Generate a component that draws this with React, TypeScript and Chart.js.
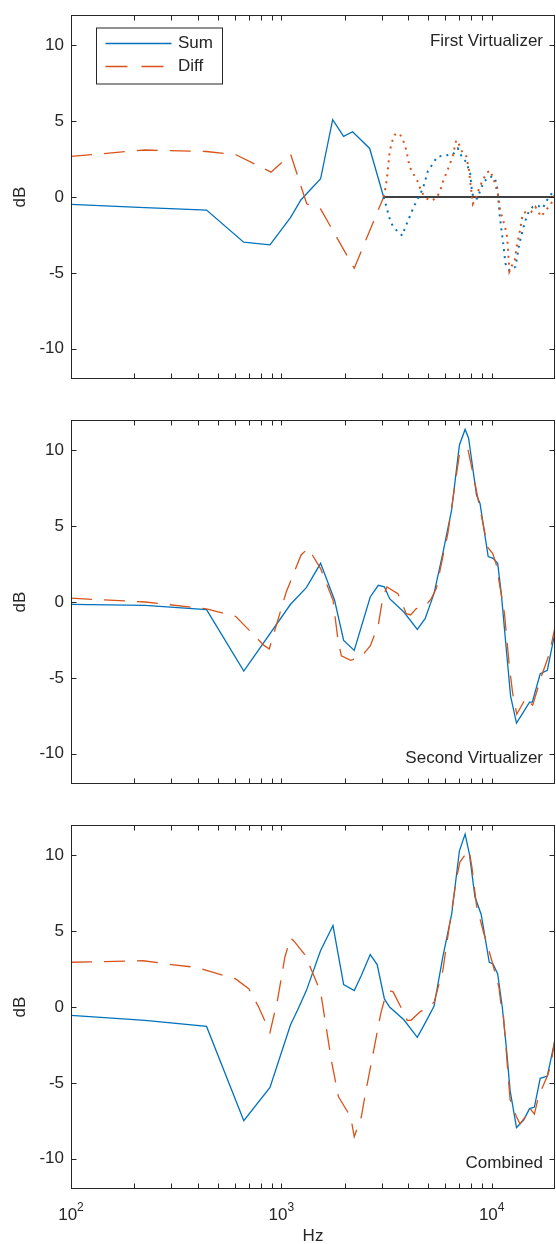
import React, { useEffect, useRef } from 'react';
import { Chart, registerables } from 'chart.js';

Chart.register(...registerables);

const BLUE = '#0072BD';
const ORANGE = '#D95319';
const AXIS = '#262626';
const FONT = '"Liberation Sans", Arial, Helvetica, sans-serif';

const Y_TICKS = [-10, -5, 0, 5, 10];
const X_MAJOR = [100, 1000, 10000];
const X_MAJOR_EXP = ['2', '3', '4'];
const X_MINOR = [200, 300, 400, 500, 600, 700, 800, 900, 2000, 3000, 4000, 5000, 6000, 7000, 8000, 9000];
const PANEL_LABELS = ['First Virtualizer', 'Second Virtualizer', 'Combined'];
const LEGEND_LABELS = ['Sum', 'Diff'];

// ---------- Panel 1: First Virtualizer ----------
const p1SumHz = [100, 225, 441, 662, 883, 1105, 1241, 1537, 1754, 1977, 2182, 2630, 3064];
const p1SumDb = [-0.48, -0.7, -0.86, -2.98, -3.16, -1.36, -0.18, 1.2, 5.1, 4.0, 4.3, 3.2, 0];
const p1DiffHz = [100, 225, 440, 606, 893, 1108, 1320, 1538, 2221, 3064];
const p1DiffDb = [2.68, 3.1, 3.0, 2.8, 1.64, 2.8, -0.45, -0.8, -4.7, 0];
const p1SumHiHz = [3064, 3155, 3236, 3333, 3532, 3758, 3884, 4174, 4347, 4708, 4973, 5252, 5510, 6015, 6537, 6902, 7244, 7568, 7906, 8046, 8197, 8533, 8849, 9173, 9763, 10311, 10573, 10736, 10889, 11094, 11376, 11627, 12146, 12973, 13407, 13658, 14315, 14841, 15671, 16732, 17481, 18342, 19658, 20000];
const p1SumHiDb = [0, -0.6, -1.2, -1.75, -2.2, -2.55, -2.0, -0.95, -0.4, 0.55, 1.7, 2.2, 2.65, 2.75, 2.8, 3.2, 2.6, 2.3, 1.55, 0.45, -0.1, -0.1, 0.45, 1.0, 1.35, 1.3, 0.8, 0.1, -1.1, -2.0, -3.2, -4.4, -4.85, -4.6, -3.4, -2.85, -1.75, -1.1, -0.65, -0.6, -0.75, -0.2, 0.4, 0.45];
const p1DiffHiHz = [3064, 3131, 3176, 3271, 3343, 3455, 3648, 3812, 3926, 4070, 4253, 4458, 4628, 4887, 5161, 5487, 5712, 5857, 6081, 6304, 6537, 6785, 7034, 7292, 7568, 7787, 7993, 8133, 8440, 8751, 9143, 9478, 9838, 10121, 10423, 10690, 10973, 11290, 11627, 11846, 12146, 12510, 12832, 13159, 13658, 14054, 14700, 15400, 16145, 17180, 17811, 19170, 20000];
const p1DiffHiDb = [0, 0.65, 1.2, 2.95, 3.55, 4.1, 4.2, 3.65, 3.1, 2.0, 1.5, 1.0, 0.35, -0.1, -0.25, -0.05, 0.5, 1.0, 1.55, 2.1, 2.75, 3.75, 3.4, 2.85, 2.7, 1.85, 0.45, -0.45, 0.0, 0.65, 1.2, 1.6, 1.75, 1.3, 0.8, 0.2, -0.9, -1.45, -2.1, -2.65, -4.9, -4.5, -4.3, -3.25, -2.15, -1.1, -0.95, -1.0, -0.65, -1.3, -1.0, -0.45, 0.2];
const p1ZeroHz = [3064, 20000];
const p1ZeroDb = [0, 0];

// ---------- Panel 2: Second Virtualizer ----------
const p2SumHz = [100, 225, 441, 663, 1106, 1315, 1537, 1790, 1978, 2221, 2646, 2891, 3090, 3271, 3824, 4430, 4824, 5318, 5857, 6451, 7025, 7475, 7768, 8470, 8800, 9624, 10154, 10678, 11107, 11750, 12300, 13121, 14006, 15136, 15600, 17012, 18389, 20000];
const p2SumDb = [-0.15, -0.22, -0.5, -4.55, -0.15, 0.95, 2.55, 0.13, -2.53, -3.19, 0.33, 1.1, 1.0, 0.22, -0.66, -1.8, -1.1, 0.55, 3.2, 6.07, 10.35, 11.38, 10.8, 7.05, 6.5, 3.0, 2.88, 2.55, 0.57, -3.2, -6.2, -7.98, -7.36, -6.6, -6.6, -4.73, -4.5, -2.0];
const p2DiffHz = [100, 225, 440, 606, 827, 876, 1055, 1241, 1342, 1537, 1760, 1863, 1930, 2136, 2400, 2646, 2891, 3041, 3176, 3583, 3926, 4117, 4380, 4797, 5160, 5452, 5857, 6187, 7034, 7700, 8284, 8751, 9583, 10121, 10505, 11503, 12146, 12596, 13158, 14583, 15007, 15671, 17179, 18815, 20000];
const p2DiffDb = [0.25, 0.0, -0.45, -0.95, -2.86, -3.1, 0.66, 3.1, 3.54, 2.2, 0.13, -2.6, -3.55, -3.85, -3.6, -2.9, -1.5, 0.33, 0.99, 0.55, -0.77, -0.85, -0.44, -0.33, 0.22, 0.88, 2.97, 4.5, 9.8, 10.1, 8.0, 6.3, 3.6, 3.2, 2.5, -0.77, -4.3, -6.05, -7.4, -6.3, -6.6, -6.8, -4.95, -3.4, -1.65];

// ---------- Panel 3: Combined ----------
const p3SumHz = [100, 225, 441, 663, 883, 1106, 1195, 1315, 1537, 1760, 1978, 2221, 2400, 2646, 2855, 3090, 3271, 3824, 4430, 4824, 5318, 5857, 6451, 7025, 7475, 7834, 8330, 8915, 9739, 10154, 10678, 11230, 11769, 12231, 13121, 14190, 15136, 15960, 17012, 18389, 20000];
const p3SumDb = [-0.55, -0.88, -1.28, -7.5, -5.3, -1.17, -0.2, 1.08, 3.72, 5.37, 1.48, 1.08, 2.07, 3.46, 2.8, 0.53, 0.0, -0.84, -2.0, -1.06, 0.05, 3.3, 6.1, 10.3, 11.4, 10.1, 7.25, 6.1, 2.95, 2.84, 2.18, 0.0, -2.83, -5.5, -7.95, -7.46, -6.7, -6.6, -4.7, -4.55, -2.16];
const p3DiffHz = [100, 220, 300, 400, 470, 606, 700, 780, 883, 960, 1040, 1106, 1149, 1292, 1394, 1538, 1567, 1728, 1867, 2136, 2221, 2400, 2495, 2972, 3090, 3271, 3400, 3824, 3966, 4133, 4540, 5125, 5318, 5857, 6210, 6820, 7063, 7440, 7797, 8054, 8470, 9143, 9912, 10828, 11107, 11316, 12231, 13121, 13626, 14436, 15136, 15430, 15960, 16700, 18389, 19060, 20000];
const p3DiffDb = [2.95, 3.05, 2.8, 2.6, 2.3, 1.85, 1.2, 0.0, -1.68, 0.5, 3.3, 4.56, 4.34, 3.46, 2.4, 0.97, 0.26, -3.5, -5.9, -7.24, -8.56, -7.24, -5.9, -0.4, 0.46, 1.08, 1.0, -0.4, -0.88, -0.88, -0.35, 0.15, 0.3, 2.4, 4.8, 8.57, 9.56, 10.0, 10.37, 9.23, 6.7, 4.93, 3.28, 1.3, 0.0, -0.2, -6.1, -7.24, -7.7, -7.24, -6.6, -6.8, -7.06, -5.9, -4.55, -3.9, -2.1];

const pts = (xs: number[], ys: number[]) => xs.map((x, i) => ({ x, y: ys[i] }));

const DASH = [21, 12];
const DOT = [2, 5];

const solid = (data: any, color: string) => ({ data, borderColor: color, borderWidth: 1.3, pointRadius: 0, fill: false, tension: 0 });
const dashed = (data: any, color: string) => ({ ...solid(data, color), borderDash: DASH });
const dotted = (data: any, color: string) => ({ ...solid(data, color), borderDash: DOT, borderWidth: 2 });

const framePlugin = {
  id: 'frame',
  afterDatasetsDraw(chart: any, _args: any, o: any) {
    const { ctx, chartArea: a } = chart;
    const xs = chart.scales.x;
    const ys = chart.scales.y;
    const L = Math.round(a.left) + 0.5;
    const R = Math.round(a.right) - 0.5;
    const T = Math.round(a.top) + 0.5;
    const B = Math.round(a.bottom) - 0.5;
    const TL = 5;
    ctx.save();
    ctx.setLineDash([]);
    ctx.strokeStyle = AXIS;
    ctx.lineWidth = 1;
    ctx.strokeRect(L, T, R - L, B - T);
    ctx.beginPath();
    for (const v of Y_TICKS) {
      const py = Math.round(ys.getPixelForValue(v)) + 0.5;
      ctx.moveTo(L, py); ctx.lineTo(L + TL, py);
      ctx.moveTo(R, py); ctx.lineTo(R - TL, py);
    }
    for (const f of [...X_MAJOR, ...X_MINOR]) {
      const px = Math.round(xs.getPixelForValue(f)) + 0.5;
      ctx.moveTo(px, B); ctx.lineTo(px, B - TL);
      ctx.moveTo(px, T); ctx.lineTo(px, T + TL);
    }
    ctx.stroke();

    ctx.fillStyle = AXIS;
    ctx.font = `17px ${FONT}`;
    ctx.textAlign = 'right';
    ctx.textBaseline = 'alphabetic';
    if (o.label) {
      const by = o.labelPos === 'top' ? a.top + 31 : a.bottom - 21;
      ctx.fillText(o.label, a.right - 12, by);
    }

    if (o.xLabels) {
      X_MAJOR.forEach((f, i) => {
        const px = xs.getPixelForValue(f);
        ctx.font = `17px ${FONT}`;
        const w1 = ctx.measureText('10').width;
        ctx.font = `12px ${FONT}`;
        const w2 = ctx.measureText(X_MAJOR_EXP[i]).width;
        const x0 = px - (w1 + w2) / 2;
        ctx.textAlign = 'left';
        ctx.font = `17px ${FONT}`;
        ctx.fillText('10', x0, a.bottom + 30.5);
        ctx.font = `12px ${FONT}`;
        ctx.fillText(X_MAJOR_EXP[i], x0 + w1, a.bottom + 22);
      });
    }

    if (o.legend) {
      const bx = a.left + 25.5, by = a.top + 13, bw = 126, bh = 56;
      ctx.fillStyle = '#ffffff';
      ctx.fillRect(bx, by, bw, bh);
      ctx.strokeStyle = AXIS;
      ctx.lineWidth = 1;
      ctx.strokeRect(bx, by, bw, bh);
      const y1 = by + 15.5, y2 = by + 38.5;
      ctx.lineWidth = 1.3;
      ctx.strokeStyle = BLUE;
      ctx.beginPath(); ctx.moveTo(bx + 9, y1); ctx.lineTo(bx + 75, y1); ctx.stroke();
      ctx.strokeStyle = ORANGE;
      ctx.setLineDash([22, 14]);
      ctx.beginPath(); ctx.moveTo(bx + 9, y2); ctx.lineTo(bx + 67, y2); ctx.stroke();
      ctx.setLineDash([]);
      ctx.fillStyle = AXIS;
      ctx.font = `17px ${FONT}`;
      ctx.textAlign = 'left';
      ctx.textBaseline = 'middle';
      ctx.fillText(LEGEND_LABELS[0], bx + 81.5, y1);
      ctx.fillText(LEGEND_LABELS[1], bx + 81.5, y2);
    }
    ctx.restore();
  },
};

function makeConfig(datasets: any[], o: any, xHeight: number, showHz: boolean) {
  return {
    type: 'line',
    data: { datasets },
    plugins: [framePlugin],
    options: {
      animation: false,
      responsive: false,
      devicePixelRatio: 1,
      layout: { padding: { top: 15, right: 1, left: 0, bottom: 0 } },
      plugins: {
        legend: { display: false },
        tooltip: { enabled: false },
        frame: o,
      },
      scales: {
        x: {
          type: 'logarithmic',
          min: 100,
          max: 20000,
          position: 'bottom',
          grid: { display: false, drawTicks: false },
          border: { display: false },
          ticks: { display: false },
          title: {
            display: showHz,
            text: 'Hz',
            color: AXIS,
            font: { family: FONT, size: 17, lineHeight: 0.88 },
            padding: { top: 0, bottom: 0 },
          },
          afterFit: (s: any) => {
            s.height = xHeight;
            s.paddingLeft = 0;
            s.paddingRight = 0;
          },
        },
        y: {
          type: 'linear',
          min: -12,
          max: 12,
          grid: { display: false, drawTicks: false },
          border: { display: false },
          ticks: { color: AXIS, font: { family: FONT, size: 17 }, padding: 7 },
          afterBuildTicks: (s: any) => {
            s.ticks = Y_TICKS.map((v) => ({ value: v }));
          },
          title: {
            display: true,
            text: 'dB',
            color: AXIS,
            font: { family: FONT, size: 17 },
            padding: { top: 10, bottom: 0 },
          },
          afterFit: (s: any) => {
            s.width = 71;
            s.paddingTop = 0;
            s.paddingBottom = 0;
          },
        },
      },
    },
  };
}

export default function App() {
  const c1 = useRef<HTMLCanvasElement>(null);
  const c2 = useRef<HTMLCanvasElement>(null);
  const c3 = useRef<HTMLCanvasElement>(null);

  useEffect(() => {
    document.body.style.margin = '0';
    const charts: Chart[] = [];
    charts.push(
      new Chart(
        c1.current as HTMLCanvasElement,
        makeConfig(
          [
            dotted(pts(p1DiffHiHz, p1DiffHiDb), ORANGE),
            dotted(pts(p1SumHiHz, p1SumHiDb), BLUE),
            solid(pts(p1ZeroHz, p1ZeroDb), '#000000'),
            dashed(pts(p1DiffHz, p1DiffDb), ORANGE),
            solid(pts(p1SumHz, p1SumDb), BLUE),
          ],
          { label: PANEL_LABELS[0], labelPos: 'top', legend: true, xLabels: false },
          26,
          false
        ) as any
      )
    );
    charts.push(
      new Chart(
        c2.current as HTMLCanvasElement,
        makeConfig(
          [dashed(pts(p2DiffHz, p2DiffDb), ORANGE), solid(pts(p2SumHz, p2SumDb), BLUE)],
          { label: PANEL_LABELS[1], labelPos: 'bottom', legend: false, xLabels: false },
          26,
          false
        ) as any
      )
    );
    charts.push(
      new Chart(
        c3.current as HTMLCanvasElement,
        makeConfig(
          [dashed(pts(p3DiffHz, p3DiffDb), ORANGE), solid(pts(p3SumHz, p3SumDb), BLUE)],
          { label: PANEL_LABELS[2], labelPos: 'bottom', legend: false, xLabels: true },
          55,
          true
        ) as any
      )
    );
    return () => charts.forEach((c) => c.destroy());
  }, []);

  const cs = (top: number): React.CSSProperties => ({ position: 'absolute', left: 0, top, display: 'block' });
  return (
    <div style={{ position: 'relative', width: 556, height: 1244, background: '#ffffff', overflow: 'hidden' }}>
      <canvas ref={c1} width={556} height={405} style={cs(0)} />
      <canvas ref={c2} width={556} height={405} style={cs(405)} />
      <canvas ref={c3} width={556} height={434} style={cs(810)} />
    </div>
  );
}
